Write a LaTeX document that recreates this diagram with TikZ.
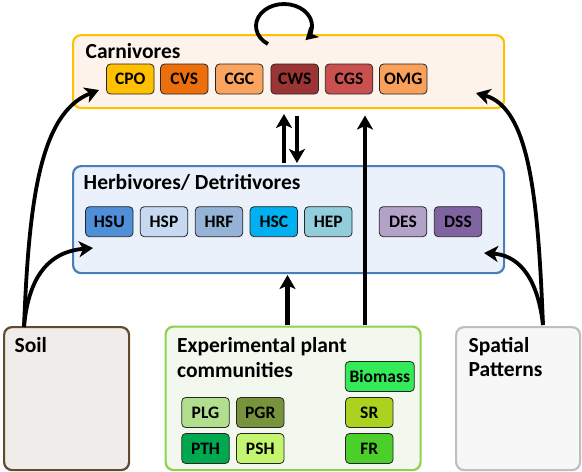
\documentclass[tikz,border=0pt]{standalone}
\usepackage{fontspec}
\setmainfont{Carlito}
\usetikzlibrary{arrows.meta,calc}
\definecolor{carnfill}{HTML}{FDF3EA}
\definecolor{carnline}{HTML}{FFC000}
\definecolor{herbfill}{HTML}{EBF1FA}
\definecolor{herbline}{HTML}{4A7EBB}
\definecolor{soilfill}{HTML}{F0ECE9}
\definecolor{soilline}{HTML}{634A2E}
\definecolor{expfill}{HTML}{F3F8EE}
\definecolor{expline}{HTML}{92D050}
\definecolor{spatfill}{HTML}{F7F7F7}
\definecolor{spatline}{HTML}{BFBFBF}
\definecolor{cCPO}{HTML}{FFC000}
\definecolor{cCVS}{HTML}{EC6F0C}
\definecolor{cCGC}{HTML}{FAA460}
\definecolor{cCWS}{HTML}{9B3535}
\definecolor{cCGS}{HTML}{C8514F}
\definecolor{cOMG}{HTML}{F9A15A}
\definecolor{cHSU}{HTML}{4F8FD8}
\definecolor{cHSP}{HTML}{C6D9F1}
\definecolor{cHRF}{HTML}{95B3D7}
\definecolor{cHSC}{HTML}{00B0F0}
\definecolor{cHEP}{HTML}{92CDDC}
\definecolor{cDES}{HTML}{B3A2C7}
\definecolor{cDSS}{HTML}{8064A2}
\definecolor{cBIO}{HTML}{33EA59}
\definecolor{cPLG}{HTML}{B2DF8E}
\definecolor{cPGR}{HTML}{77933C}
\definecolor{cPTH}{HTML}{00A850}
\definecolor{cPSH}{HTML}{C3F56F}
\definecolor{cSR}{HTML}{AAD21F}
\definecolor{cFR}{HTML}{4CCF2A}
\begin{document}
\begin{tikzpicture}[x=1pt,y=-1pt,
  bigbox/.style={rounded corners=8pt, line width=2.2pt, inner sep=0pt, anchor=north west},
  sbox/.style={draw=black!85, line width=0.8pt, rounded corners=4pt, minimum width=47.5pt,
     minimum height=30pt, inner sep=0pt, font=\fontsize{17.5}{19}\selectfont\bfseries},
  title/.style={anchor=base west, inner sep=0pt, align=left,
     font=\fontsize{21.5}{24.5}\selectfont\bfseries},
  arr/.style={line width=4.2pt, -{Stealth[length=14pt,width=16pt,inset=3.5pt]}},
  carr/.style={line width=3.8pt, -{Stealth[length=14pt,width=16pt,inset=4pt]}}
]
\useasboundingbox (0,0) rectangle (582,472);
% big boxes
\node[bigbox, draw=carnline, fill=carnfill, minimum width=431pt, minimum height=73pt] (carn) at (72,34) {};
\node[bigbox, draw=herbline, fill=herbfill, minimum width=431pt, minimum height=107pt] (herb) at (72,165) {};
\node[bigbox, draw=soilline, fill=soilfill, minimum width=125pt, minimum height=143pt] (soil) at (3,326) {};
\node[bigbox, draw=expline, fill=expfill, minimum width=255pt, minimum height=143.5pt] (exp) at (164.5,325.5) {};
\node[bigbox, draw=spatline, fill=spatfill, minimum width=124pt, minimum height=143pt] (spat) at (455,326) {};
% titles
\node[title] (tcarn) at (85.5,58.6) {Carnivores};
\node[title] (therb) at (83.5,189.6) {Herbivores/ Detritivores};
\node[title] (tsoil) at (14.5,352.8) {Soil};
\node[title] (texp) at (177,377.3) {Experimental plant\\communities};
\node[title] (tspat) at (468.5,376.8) {Spatial\\Patterns};
% carnivores
\node[sbox, fill=cCPO] (CPO) at (130.3,79) {CPO};
\node[sbox, fill=cCVS] (CVS) at (184.3,79) {CVS};
\node[sbox, fill=cCGC] (CGC) at (239.3,79) {CGC};
\node[sbox, fill=cCWS] (CWS) at (294.7,79) {CWS};
\node[sbox, fill=cCGS] (CGS) at (349,79) {CGS};
\node[sbox, fill=cOMG] (OMG) at (403.3,79) {OMG};
% herbivores
\node[sbox, fill=cHSU] (HSU) at (109.3,221.7) {HSU};
\node[sbox, fill=cHSP] (HSP) at (164,221.7) {HSP};
\node[sbox, fill=cHRF] (HRF) at (219,221.7) {HRF};
\node[sbox, fill=cHSC] (HSC) at (273.8,221.7) {HSC};
\node[sbox, fill=cHEP] (HEP) at (328.3,221.7) {HEP};
\node[sbox, fill=cDES] (DES) at (403,221.7) {DES};
\node[sbox, fill=cDSS] (DSS) at (458,221.7) {DSS};
% plants
\node[sbox, fill=cBIO, minimum width=69pt] (BIO) at (379.8,376.5) {Biomass};
\node[sbox, fill=cPLG] (PLG) at (205.5,412.5) {PLG};
\node[sbox, fill=cPGR] (PGR) at (260.3,412.5) {PGR};
\node[sbox, fill=cPTH] (PTH) at (205.5,448.5) {PTH};
\node[sbox, fill=cPSH] (PSH) at (260.3,448.5) {PSH};
\node[sbox, fill=cSR] (SR) at (369.3,412.5) {SR};
\node[sbox, fill=cFR] (FR) at (369.3,448.5) {FR};
% anchor coordinates for connectors
\coordinate (s0) at (24,327);
\coordinate (p0) at (543,325);
\coordinate (cL) at (99,90);
\coordinate (hL) at (93,248);
\coordinate (cR) at (476,93);
\coordinate (hR) at (484,253);
% curved arrows
\draw[carr] (s0) .. controls (29,200) and (40,113) .. (cL);
\draw[carr] (s0) .. controls (28,282) and (45,252) .. (hL);
\draw[carr] (p0) .. controls (538,200) and (530,108) .. (cR);
\draw[carr] (p0) .. controls (537,272) and (515,255) .. (hR);
% straight arrows
\draw[arr] (284,163) -- (284,114);
\draw[arr] (297,116) -- (297,163);
\draw[arr] (287.5,325) -- (287.5,275);
\draw[arr] (365,325) -- (365,115.5);
% self loop
\coordinate (loopc) at (284,26);
\draw[line width=3.8pt, -{Stealth[length=12pt,width=14pt,inset=3pt]}]
  ($(loopc)+(125:28 and 22)$) arc[start angle=125, end angle=400, x radius=28, y radius=22];
\end{tikzpicture}
\end{document}
